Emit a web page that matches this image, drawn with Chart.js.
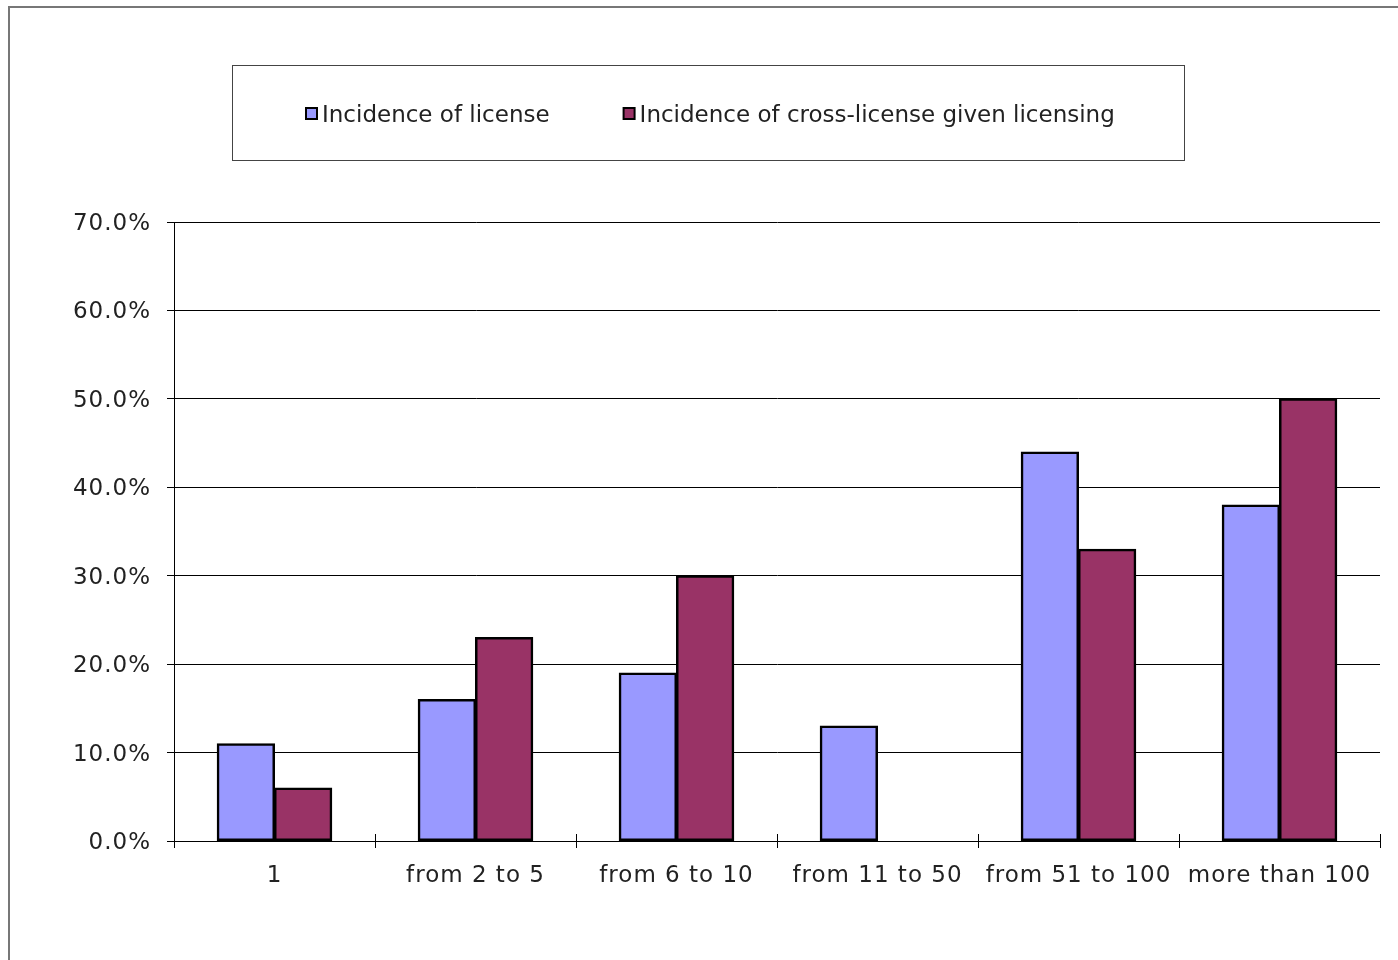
<!DOCTYPE html>
<html>
<head>
<meta charset="utf-8">
<script src="https://cdn.jsdelivr.net/npm/chart.js@4/dist/chart.umd.min.js"></script>
<style>
  html, body { margin: 0; padding: 0; background: #fff; }
  #c { display: block; }
</style>
</head>
<body>
<canvas id="c" width="1398" height="960"></canvas>
<script>
// Number of licences held, by bucket
const categories = ['1', 'from 2 to 5', 'from 6 to 10', 'from 11 to 50', 'from 51 to 100', 'more than 100'];
// Share of firms that license
const licenseShare = [0.11, 0.16, 0.19, 0.13, 0.44, 0.38];
// Share of licensors that also cross-license
const crossLicenseShare = [0.06, 0.23, 0.30, 0, 0.33, 0.50];
const seriesNames = ['Incidence of license', 'Incidence of cross-license given licensing'];
const yTickValues = [0, 0.1, 0.2, 0.3, 0.4, 0.5, 0.6, 0.7];

const FONT = 'DejaVu Sans';
const TEXT_COLOR = '#222';

// Letter spacing for the axis labels
const spacingPlugin = {
  id: 'spacing',
  beforeUpdate(chart) { chart.ctx.letterSpacing = '1px'; },
  beforeDraw(chart) { chart.ctx.letterSpacing = '1px'; }
};

// Outer frame around the whole figure
const framePlugin = {
  id: 'frame',
  beforeDraw(chart) {
    const ctx = chart.ctx;
    ctx.save();
    ctx.strokeStyle = '#777';
    ctx.lineWidth = 2;
    ctx.strokeRect(9, 7, chart.width + 20, chart.height + 20);
    ctx.restore();
  }
};

// Boxed legend above the plot
const boxLegendPlugin = {
  id: 'boxLegend',
  afterDraw(chart, args, opts) {
    const ctx = chart.ctx;
    const b = opts.box;
    ctx.save();
    ctx.letterSpacing = '0px';
    ctx.strokeStyle = '#444';
    ctx.lineWidth = 1;
    ctx.strokeRect(b.x + 0.5, b.y + 0.5, b.w, b.h);
    ctx.font = opts.fontSize + 'px "' + FONT + '"';
    ctx.textBaseline = 'middle';
    let x = b.x + opts.gap;
    const cy = b.y + b.h / 2;
    chart.data.datasets.forEach(ds => {
      const s = opts.marker;
      ctx.fillStyle = ds.backgroundColor;
      ctx.fillRect(x, cy - s / 2 + 1, s, s);
      ctx.strokeStyle = '#000';
      ctx.lineWidth = 2;
      ctx.strokeRect(x, cy - s / 2 + 1, s, s);
      x += s + opts.markerGap;
      ctx.fillStyle = TEXT_COLOR;
      ctx.fillText(ds.label, x, cy + 4);
      x += ctx.measureText(ds.label).width + opts.gap;
    });
    ctx.restore();
  }
};

// Category boundary ticks that cross the value axis line
const crossTickPlugin = {
  id: 'crossTicks',
  afterDraw(chart) {
    const xs = chart.scales.x;
    const ctx = chart.ctx;
    const n = chart.data.labels.length;
    const step = (xs.right - xs.left) / n;
    ctx.save();
    ctx.strokeStyle = '#000';
    ctx.lineWidth = 1;
    ctx.beginPath();
    for (let i = 0; i <= n; i++) {
      const px = Math.round(xs.left + i * step) + 0.5;
      ctx.moveTo(px, xs.top - 7);
      ctx.lineTo(px, xs.top);
    }
    ctx.stroke();
    ctx.restore();
  }
};

new Chart(document.getElementById('c'), {
  type: 'bar',
  data: {
    labels: categories,
    datasets: [
      {
        label: seriesNames[0],
        data: licenseShare,
        backgroundColor: '#9999FF',
        borderColor: '#000',
        borderWidth: 2.5,
        borderSkipped: false,
        inflateAmount: 0.5
      },
      {
        label: seriesNames[1],
        data: crossLicenseShare,
        backgroundColor: '#993366',
        borderColor: '#000',
        borderWidth: 2.5,
        borderSkipped: false,
        inflateAmount: 0.5
      }
    ]
  },
  options: {
    responsive: false,
    animation: false,
    devicePixelRatio: 1,
    datasets: { bar: { categoryPercentage: 0.57, barPercentage: 1.0 } },
    layout: { padding: { left: 0, top: 222, right: 18, bottom: 0 } },
    plugins: {
      legend: { display: false },
      tooltip: { enabled: false },
      boxLegend: {
        box: { x: 232, y: 65, w: 952, h: 95 },
        fontSize: 23,
        marker: 11,
        markerGap: 5,
        gap: 74
      }
    },
    scales: {
      x: {
        afterFit(scale) { scale.height = 119; },
        grid: {
          display: true,
          drawOnChartArea: false,
          drawTicks: true,
          tickLength: 7,
          color: '#000',
          offset: true
        },
        border: { display: true, color: '#000', width: 1 },
        ticks: {
          font: { family: FONT, size: 23 },
          color: TEXT_COLOR,
          padding: 14,
          maxRotation: 0,
          autoSkip: false
        }
      },
      y: {
        min: 0,
        max: 0.7,
        afterFit(scale) { scale.width = 174; },
        afterBuildTicks(scale) { scale.ticks = yTickValues.map(v => ({ value: v })); },
        grid: { color: '#000', lineWidth: 1, tickLength: 7, tickColor: '#000' },
        border: { display: true, color: '#000', width: 1 },
        ticks: {
          font: { family: FONT, size: 23 },
          color: TEXT_COLOR,
          padding: 16,
          labelOffset: 2,
          callback: v => (v * 100).toFixed(1) + '%'
        }
      }
    }
  },
  plugins: [spacingPlugin, framePlugin, boxLegendPlugin, crossTickPlugin]
});
</script>
</body>
</html>
